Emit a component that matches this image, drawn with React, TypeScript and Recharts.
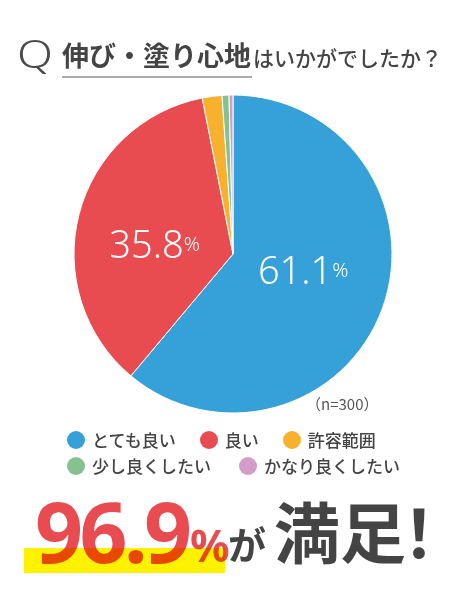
import { PieChart, Pie, Legend } from "recharts";

const categories = ["とても良い", "良い", "許容範囲", "少し良くしたい", "かなり良くしたい"];
const shares = [61.1, 35.8, 2.0, 0.7, 0.4];
const colors = ["#36a0d8", "#e84c50", "#f8b12f", "#86c290", "#d49cc8"];
const legendRows = [3, 2];
const sampleSize = 300;
const satisfied = "96.9";

const data = categories.map((name, i) => ({ name, value: shares[i], fill: colors[i] }));

const JP = '"Noto Sans CJK JP", "Noto Sans", sans-serif';
const NUM = '"Noto Sans", "Noto Sans CJK JP", sans-serif';
const TEXT = "#444";
const RADIAN = Math.PI / 180;
// small hand nudges so the big numbers sit like the original layout
const labelNudge = [
  [0, -11],
  [-6, 8],
];

function SliceLabel(props: any) {
  const { cx, cy, midAngle, outerRadius, index, value } = props;
  if (value < 10) return null;
  const r = outerRadius * 0.47;
  const [nx, ny] = labelNudge[index] || [0, 0];
  const x = cx + r * Math.cos(-midAngle * RADIAN) + nx;
  const y = cy + r * Math.sin(-midAngle * RADIAN) + ny;
  return (
    <text
      x={x}
      y={y}
      fill="#fff"
      textAnchor="middle"
      dominantBaseline="central"
      fontFamily={NUM}
      fontWeight={300}
    >
      <tspan fontSize={38}>{value.toFixed(1)}</tspan>
      <tspan fontSize={20}>%</tspan>
    </text>
  );
}

function LegendBox(props: any) {
  const { payload = [] } = props;
  // keep the original category order (recharts sorts the payload by name)
  const items = categories.map((name, i) => {
    const p = payload.find((q: any) => q.value === name);
    return { name, color: (p && p.color) || colors[i] };
  });
  let start = 0;
  const rows = legendRows.map((n) => {
    const row = items.slice(start, start + n);
    start += n;
    return row;
  });
  return (
    <div style={{ width: 360 }}>
      {rows.map((row, r) => (
        <div key={r} style={{ display: "flex", whiteSpace: "nowrap", height: 26, alignItems: "center" }}>
          {row.map((it, j) => (
            <div
              key={it.name}
              style={{
                display: "flex",
                alignItems: "center",
                marginRight: r === 0 ? 24 : 28,
                fontFamily: JP,
                fontSize: 17,
                lineHeight: "20px",
                fontWeight: 500,
                color: TEXT,
              }}
            >
              <span
                style={{
                  width: 18,
                  height: 18,
                  borderRadius: 9,
                  background: it.color,
                  marginRight: 7,
                  flex: "none",
                }}
              />
              {it.name}
            </div>
          ))}
        </div>
      ))}
    </div>
  );
}

export default function App() {
  return (
    <div
      style={{
        position: "absolute",
        left: 0,
        top: 0,
        width: 466,
        height: 601,
        background: "#fff",
      }}
    >
      <PieChart width={466} height={601} margin={{ top: 0, right: 0, bottom: 0, left: 0 }}>
        <Pie
          data={data}
          dataKey="value"
          nameKey="name"
          cx={233}
          cy={254}
          outerRadius={159}
          startAngle={90}
          endAngle={-270}
          stroke="#fff"
          strokeWidth={1}
          label={SliceLabel}
          labelLine={false}
          isAnimationActive={false}
        />
        <Legend
          content={<LegendBox />}
          wrapperStyle={{ position: "absolute", left: 67, top: 427, width: 360 }}
        />
      </PieChart>
      <svg
        width={466}
        height={601}
        style={{ position: "absolute", left: 0, top: 0, pointerEvents: "none" }}
      >
        <text
          transform="translate(17,68) scale(1.2,1)"
          fontFamily={NUM}
          fontSize={39}
          fontWeight={300}
          fill="#4a4a4a"
        >
          Q
        </text>
        <text x={62} y={66} fontFamily={JP} fontSize={27} fontWeight={700} fill={TEXT}>
          伸び・塗り心地
        </text>
        <line x1={62} x2={252} y1={77} y2={77} stroke="#555" strokeWidth={1.2} />
        <text x={253} y={66} fontFamily={JP} fontSize={21} fontWeight={500} fill={TEXT}>
          はいかがでしたか？
        </text>
        <text x={306} y={410} fontFamily={JP} fontSize={15} fill="#555">
          （n={sampleSize}）
        </text>

        <rect x={24} y={548} width={201} height={25} fill="#fff200" />
        <g style={{ mixBlendMode: "multiply" }}>
          <text
            x={35}
            y={563}
            fontFamily={NUM}
            fontSize={84}
            fontWeight={700}
            fill="#e84c50"
            textLength={157}
            lengthAdjust="spacing"
          >
            {satisfied}
          </text>
          <text x={190} y={562} fontFamily={NUM} fontSize={44} fontWeight={700} fill="#e84c50">
            %
          </text>
        </g>
        <text x={228} y={559} fontFamily={JP} fontSize={38} fontWeight={700} fill={TEXT}>
          が
        </text>
        <text x={274} y={558} fontFamily={JP} fontSize={66} fontWeight={700} fill={TEXT}>
          満<tspan letterSpacing={-20}>足</tspan>！
        </text>
      </svg>
    </div>
  );
}
